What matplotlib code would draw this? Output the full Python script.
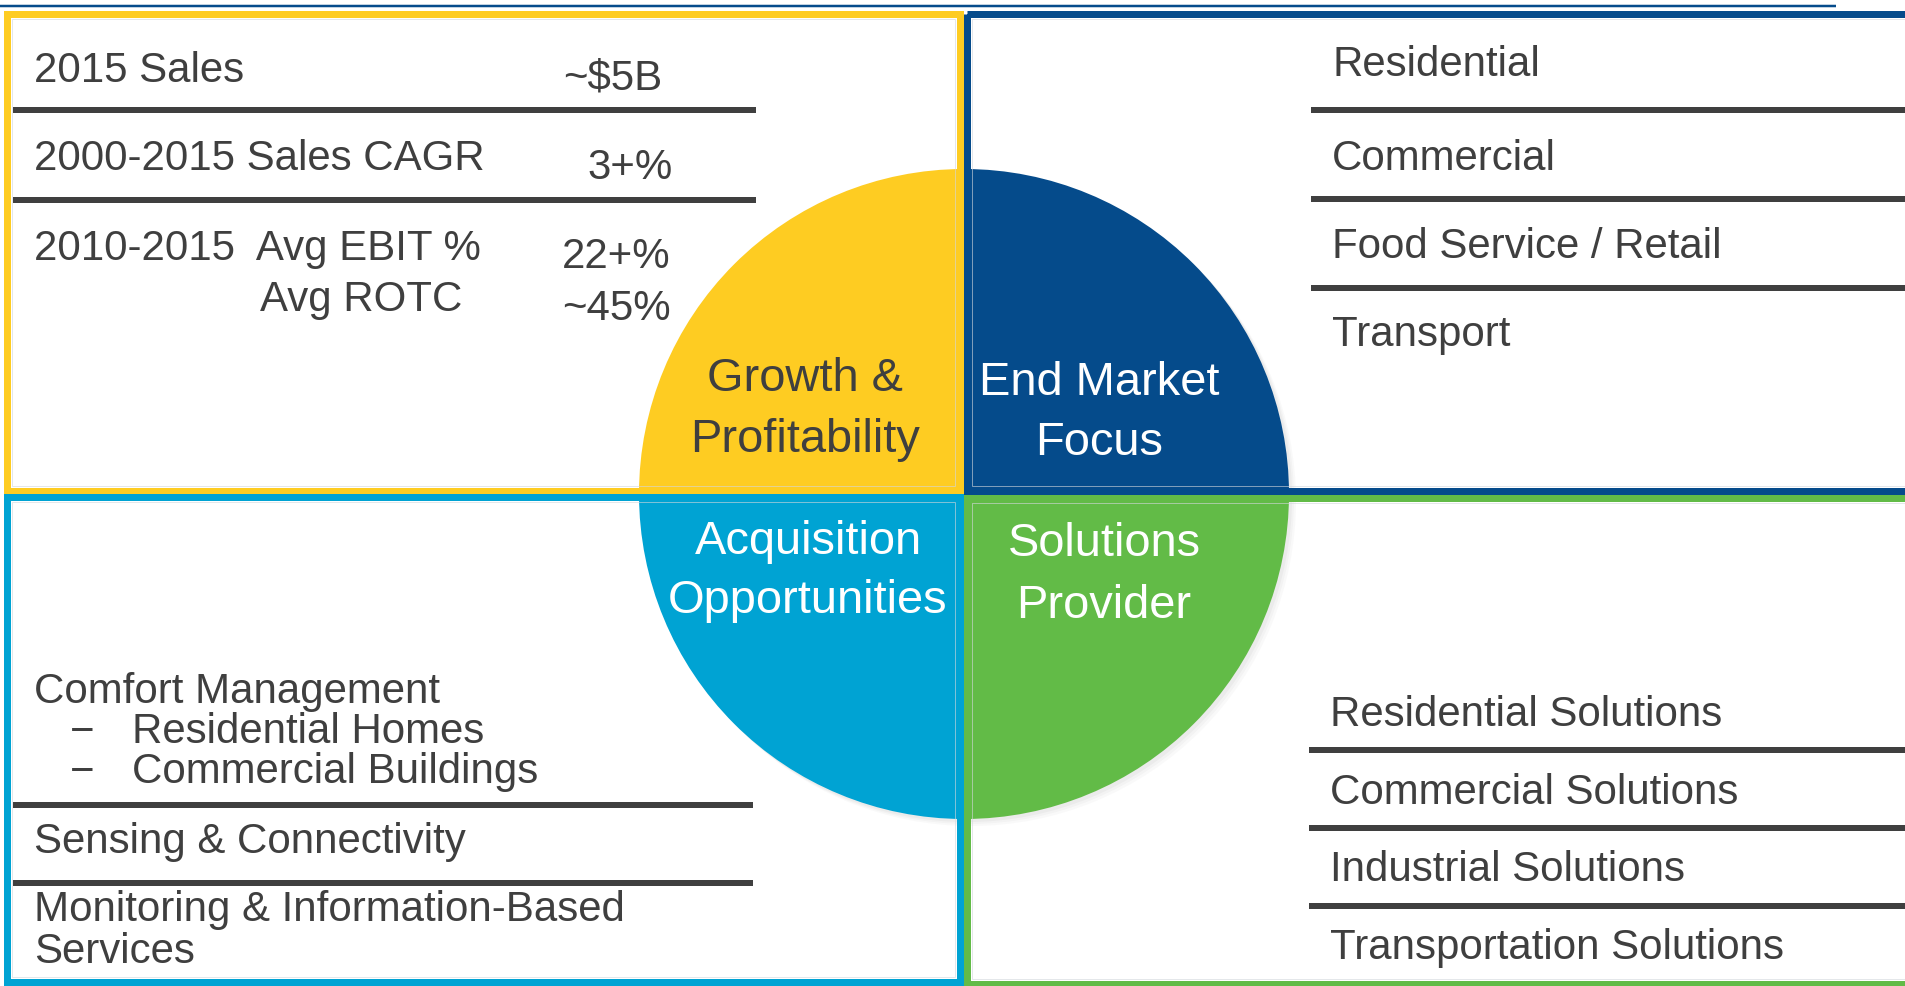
import matplotlib
matplotlib.use("Agg")
import matplotlib.pyplot as plt
from matplotlib.patches import Wedge, Rectangle

plt.rcParams['font.family'] = ['Liberation Sans', 'DejaVu Sans']

# ---- content ----
quadrant_titles = ["Growth &\nProfitability", "End Market\nFocus",
                   "Acquisition\nOpportunities", "Solutions\nProvider"]
growth_labels = ["2015 Sales", "2000-2015 Sales CAGR", "2010-2015  Avg EBIT %", "Avg ROTC"]
growth_values = ["~$5B", "3+%", "22+%", "~45%"]
end_markets = ["Residential", "Commercial", "Food Service / Retail", "Transport"]
acquisition_items = ["Comfort Management", "Residential Homes", "Commercial Buildings",
                     "Sensing & Connectivity", "Monitoring & Information-Based", "Services"]
solutions = ["Residential Solutions", "Commercial Solutions",
             "Industrial Solutions", "Transportation Solutions"]

# ---- style ----
YELLOW = "#FECC22"
NAVY = "#054B8B"
CYAN = "#00A3D3"
GREEN = "#62BB47"
TXT = "#3F3F3F"
W, H, DPI = 1905, 986, 100
PX = 72 / DPI
BODY = 42 * PX
TITLE = 47 * PX

fig = plt.figure(figsize=(W / DPI, H / DPI), dpi=DPI)
ax = fig.add_axes([0, 0, 1, 1])
ax.set_xlim(0, W)
ax.set_ylim(H, 0)
ax.axis("off")

# top rule
ax.plot([0, 1836], [6, 6], color=NAVY, lw=2.5 * PX, solid_capstyle="butt")

# circle quadrants (with a soft shadow)
cx, cy, r = 964, 494, 325
for k, a in enumerate([0.06, 0.05, 0.04]):
    ax.add_patch(Wedge((cx + 3 + 2 * k, cy + 3 + 2 * k), r, 0, 360, color="#7f7f7f",
                       alpha=a, lw=0, zorder=1))
for (t1, t2), col in zip([(180, 270), (270, 360), (90, 180), (0, 90)],
                         [YELLOW, NAVY, CYAN, GREEN]):
    ax.add_patch(Wedge((cx, cy), r, t1, t2, color=col, lw=0, zorder=2))

# boxes
bw = 7
boxes = [((6.5, 13.5, 959.5, 490.5), YELLOW),
         ((966.5, 14, 1912, 490.5), NAVY),
         ((6.5, 496.5, 959.5, 981.5), CYAN),
         ((966.5, 497.5, 1912, 983.5), GREEN)]
for (x0, y0, x1, y1), col in boxes:
    # thin light inner line
    ax.add_patch(Rectangle((x0 + 5, y0 + 5), x1 - x0 - 10, y1 - y0 - 10, fill=False,
                           edgecolor="#d3d7dc", alpha=0.6, lw=1 * PX, zorder=2.5))
    ax.add_patch(Rectangle((x0, y0), x1 - x0, y1 - y0, fill=False, edgecolor=col,
                           lw=bw * PX, zorder=3, joinstyle="miter"))

def rule(x0, x1, y):
    ax.plot([x0, x1], [y, y], color=TXT, lw=6 * PX, solid_capstyle="butt", zorder=4)

def txt(x, y, s, **kw):
    kw.setdefault("fontsize", BODY)
    kw.setdefault("color", TXT)
    ax.text(x, y, s, va="baseline", zorder=5, **kw)

# Growth & Profitability box
txt(34, 82, growth_labels[0])
txt(563, 90, growth_values[0])
rule(13, 756, 110)
txt(34, 170, growth_labels[1])
txt(587, 179, growth_values[1])
rule(13, 756, 200)
txt(34, 260, growth_labels[2])
txt(260, 311, growth_labels[3])
txt(562, 268, growth_values[2])
txt(562, 320, growth_values[3])

# End Market box
em_base = [76, 170, 258, 346]
for s, y in zip(end_markets, em_base):
    txt(1332, y, s)
for y in [110, 199, 288]:
    rule(1311, W, y)

# Acquisition box
txt(34, 703, acquisition_items[0])
txt(70, 743, "\u2212")
txt(132, 743, acquisition_items[1])
txt(70, 783, "\u2212")
txt(132, 783, acquisition_items[2])
rule(13, 753, 805)
txt(34, 853, acquisition_items[3])
rule(13, 753, 883)
txt(34, 921, acquisition_items[4])
txt(34, 963, acquisition_items[5])

# Solutions box
sol_base = [726, 804, 881, 959]
for s, y in zip(solutions, sol_base):
    txt(1330, y, s)
for y in [750, 828, 905.5]:
    rule(1309, W, y)

# quadrant titles
title_pos = [(805, 391, 452, TXT), (1099, 395, 455, "white"),
             (808, 554, 613, "white"), (1104, 556, 618, "white")]
for s, (x, y1, y2, c) in zip(quadrant_titles, title_pos):
    l1, l2 = s.split("\n")
    txt(x, y1, l1, ha="center", fontsize=TITLE, color=c)
    txt(x, y2, l2, ha="center", fontsize=TITLE, color=c)

fig.savefig("out.png", dpi=DPI)
